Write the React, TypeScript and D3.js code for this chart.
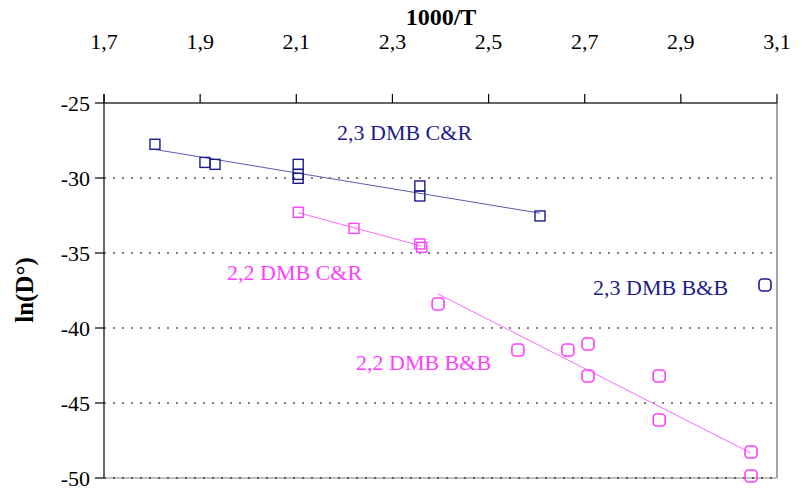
import React from "react";
import * as d3 from "d3";

// 1000/T values and ln(D°) values
const crX23 = [1.806, 1.91, 1.931, 2.104, 2.104, 2.104, 2.357, 2.357, 2.607];
const crY23 = [-27.75, -28.96, -29.09, -29.09, -29.76, -30.02, -30.53, -31.2, -32.53];

const crX22 = [2.104, 2.22, 2.357, 2.361];
const crY22 = [-32.29, -33.36, -34.4, -34.62];

const bbX22 = [2.395, 2.561, 2.665, 2.707, 2.707, 2.855, 2.855, 3.046, 3.046];
const bbY22 = [-38.4, -41.47, -41.47, -41.07, -43.2, -43.2, -46.13, -48.27, -49.87];

const bbX23 = [3.075];
const bbY23 = [-37.13];

const xTicks = [1.7, 1.9, 2.1, 2.3, 2.5, 2.7, 2.9, 3.1];
const yTicks = [-25, -30, -35, -40, -45, -50];

const NAVY = "#1c1c8e";
const MAGENTA = "#ff40ff";

const fmt = (v: number) => d3.format(".1f")(v).replace(".", ",");

// least squares fit, drawn between the smallest and largest x
function fitLine(xs: number[], ys: number[]) {
  const mx = d3.mean(xs)!;
  const my = d3.mean(ys)!;
  let sxy = 0, sxx = 0;
  xs.forEach((x, i) => {
    sxy += (x - mx) * (ys[i] - my);
    sxx += (x - mx) * (x - mx);
  });
  const b = sxy / sxx;
  const a = my - b * mx;
  const [x0, x1] = d3.extent(xs) as [number, number];
  return [
    [x0, a + b * x0],
    [x1, a + b * x1],
  ] as [number, number][];
}

export default function App() {
  const width = 805;
  const height = 490;
  const left = 104, right = 777, top = 103, bottom = 478;

  const x = d3.scaleLinear().domain([1.7, 3.1]).range([left, right]);
  const y = d3.scaleLinear().domain([-25, -50]).range([top, bottom]);
  const line = d3.line<[number, number]>().x((d) => x(d[0])).y((d) => y(d[1]));

  const font = "'Liberation Serif', 'Times New Roman', serif";

  const squares = (xs: number[], ys: number[], color: string) =>
    xs.map((v, i) => (
      <rect key={i} x={x(v) - 5} y={y(ys[i]) - 5} width={10} height={10}
        fill="none" stroke={color} strokeWidth={1.4} />
    ));
  const rounds = (xs: number[], ys: number[], color: string) =>
    xs.map((v, i) => (
      <rect key={i} x={x(v) - 6} y={y(ys[i]) - 6} width={12} height={12} rx={3.5}
        fill="none" stroke={color} strokeWidth={1.6} />
    ));

  return (
    <svg width={width} height={height} style={{ position: "absolute", left: 0, top: 0 }}
      fontFamily={font}>
      <rect width={width} height={height} fill="#fff" />

      {/* plot border */}
      <line x1={right} x2={right} y1={top} y2={bottom} stroke="#888" strokeWidth={1.5} />
      <line x1={left} x2={right} y1={bottom} y2={bottom} stroke="#aaa" strokeWidth={1.5} />

      {/* grid */}
      {yTicks.slice(1).map((t) => (
        <line key={t} x1={left} x2={right} y1={y(t)} y2={y(t)} stroke="#000"
          strokeWidth={1} strokeDasharray="2,7" />
      ))}

      {/* trend lines */}
      <path d={line(fitLine(crX23, crY23))!} stroke="#5c5cb0" strokeWidth={1} fill="none" />
      <path d={line(fitLine(crX22, crY22))!} stroke="#ff66ff" strokeWidth={1} fill="none" />
      <path d={line(fitLine(bbX22, bbY22))!} stroke="#ff66ff" strokeWidth={1} fill="none" />

      {squares(crX23, crY23, NAVY)}
      {squares(crX22, crY22, MAGENTA)}
      {rounds(bbX22, bbY22, MAGENTA)}
      {rounds(bbX23, bbY23, NAVY)}

      {/* axes */}
      <line x1={left} x2={right} y1={top} y2={top} stroke="#333" strokeWidth={1.5} />
      <line x1={left} x2={left} y1={top - 9} y2={bottom} stroke="#333" strokeWidth={1.5} />
      {xTicks.map((t) => (
        <g key={t}>
          <line x1={x(t)} x2={x(t)} y1={top - 9} y2={top} stroke="#000" strokeWidth={1.2} />
          <text x={x(t)} y={49} textAnchor="middle" fontSize={22}>{fmt(t)}</text>
        </g>
      ))}
      {yTicks.map((t) => (
        <g key={t}>
          <line x1={left - 9} x2={left} y1={y(t)} y2={y(t)} stroke="#000" strokeWidth={1.2} />
          <text x={90} y={y(t) + 7.5} textAnchor="end" fontSize={22}>{t}</text>
        </g>
      ))}

      <text x={441} y={25} textAnchor="middle" fontSize={24} fontWeight="bold">1000/T</text>
      <text transform="translate(33,290) rotate(-90)" textAnchor="middle" fontSize={25}
        fontWeight="bold">ln(D°)</text>

      {/* series labels */}
      <text x={337} y={140} fontSize={22} fill={NAVY}>2,3 DMB C&amp;R</text>
      <text x={227} y={280} fontSize={22} fill={MAGENTA}>2,2 DMB C&amp;R</text>
      <text x={593} y={295} fontSize={22} fill={NAVY}>2,3 DMB B&amp;B</text>
      <text x={356} y={370} fontSize={22} fill={MAGENTA}>2,2 DMB B&amp;B</text>
    </svg>
  );
}
